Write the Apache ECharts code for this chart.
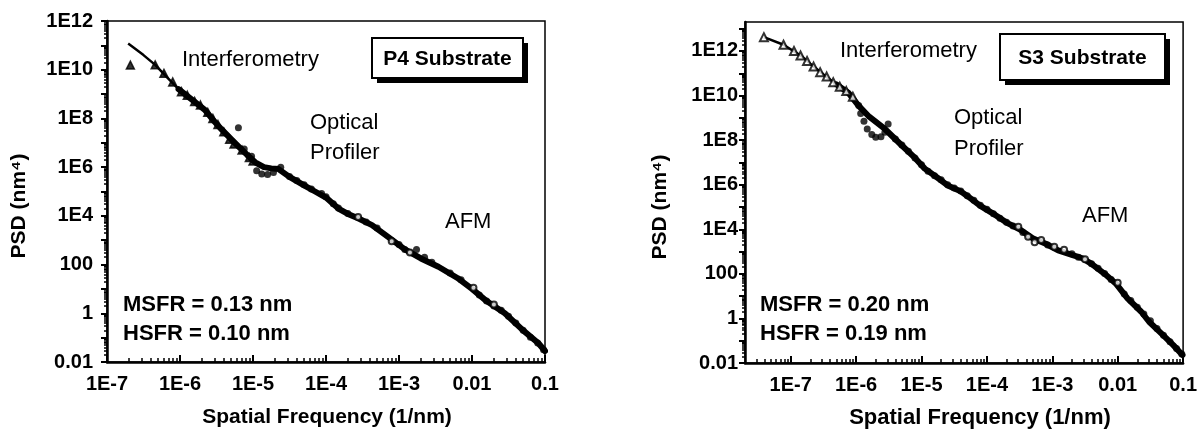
<!DOCTYPE html>
<html><head><meta charset="utf-8">
<script src="https://cdn.jsdelivr.net/npm/echarts@6/dist/echarts.min.js"></script>
<style>html,body{margin:0;padding:0;background:#fff}#c{width:1200px;height:430px}</style>
</head><body><div id="c"></div>
<script>
// All values are log10 exponents.
const xTickExp = [-7, -6, -5, -4, -3, -2, -1];
const xTickLabels = ['1E-7', '1E-6', '1E-5', '1E-4', '1E-3', '0.01', '0.1'];
const yTickExp = [-2, 0, 2, 4, 6, 8, 10, 12];
const yTickLabels = ['0.01', '1', '100', '1E4', '1E6', '1E8', '1E10', '1E12'];

// P4 substrate (left panel)
const p4Fit = [[-6.71,11.08],[-6.5,10.6],[-6.34,10.2],[-6.18,9.7],[-6.02,9.2],[-5.85,8.8]];
const p4Trace = [[-6.02,9.2],[-5.85,8.8],[-5.66,8.35],[-5.55,7.95],[-5.43,7.55],[-5.3,7.15],[-5.2,6.85],[-5.08,6.5],[-4.97,6.2],[-4.85,6.0],[-4.75,5.95],[-4.65,5.92],[-4.5,5.6],[-4.3,5.25],[-4.15,5.0],[-4.0,4.75],[-3.83,4.3],[-3.7,4.08],[-3.56,3.9],[-3.37,3.62],[-3.15,3.14],[-2.92,2.62],[-2.7,2.25],[-2.46,1.91],[-2.2,1.45],[-2.0,1.0],[-1.8,0.5],[-1.55,0.0],[-1.3,-0.7],[-1.09,-1.23],[-1.0,-1.55]];
const p4Interf = [[-6.68,10.19],[-6.34,10.2],[-6.22,9.85],[-6.1,9.5],[-5.98,9.1],[-5.9,8.95],[-5.8,8.7],[-5.72,8.55],[-5.62,8.25],[-5.55,8.0],[-5.48,7.75],[-5.4,7.45],[-5.32,7.15],[-5.26,6.95],[-5.15,6.7],[-5.05,6.4],[-5.0,6.25]];
const p4Optical = [[-5.2,7.62],[-5.12,6.75],[-5.02,6.45],[-4.95,5.85],[-4.88,5.72],[-4.8,5.7],[-4.72,5.78],[-4.62,6.0],[-4.5,5.62],[-4.4,5.45],[-4.3,5.28],[-4.2,5.1],[-4.06,4.92],[-4.0,4.78],[-3.9,4.5],[-3.83,4.32],[-2.76,2.62]];
const p4AfmFilled = [[-3.7,4.1],[-3.45,3.75],[-3.3,3.5],[-3.0,2.82],[-2.92,2.62],[-2.65,2.3],[-2.55,2.1],[-2.3,1.65],[-2.15,1.38],[-1.9,0.75],[-1.8,0.5],[-1.7,0.3],[-1.6,0.12],[-1.5,-0.12],[-1.4,-0.4],[-1.3,-0.7],[-1.2,-0.98],[-1.1,-1.22],[-1.02,-1.5]];
const p4AfmOpen = [[-3.56,3.95],[-3.1,2.96],[-2.85,2.5],[-1.98,1.05],[-1.7,0.36]];

// S3 substrate (right panel)
const s3Fit = [[-7.41,12.62],[-7.11,12.28],[-6.83,11.76],[-6.65,11.3],[-6.47,10.88],[-6.3,10.5],[-6.12,10.13]];
const s3Trace = [[-6.3,10.5],[-6.12,10.13],[-5.96,9.54],[-5.8,9.05],[-5.56,8.5],[-5.3,7.76],[-5.1,7.2],[-4.95,6.72],[-4.75,6.3],[-4.59,5.95],[-4.4,5.7],[-4.28,5.45],[-4.1,5.05],[-3.93,4.75],[-3.7,4.3],[-3.5,4.0],[-3.3,3.6],[-3.1,3.35],[-2.91,3.05],[-2.7,2.85],[-2.54,2.7],[-2.4,2.45],[-2.2,2.0],[-2.03,1.57],[-1.85,0.9],[-1.64,0.3],[-1.52,-0.15],[-1.33,-0.68],[-1.15,-1.2],[-1.01,-1.64]];
const s3Interf = [[-7.41,12.62],[-7.11,12.28],[-6.95,12.0],[-6.85,11.8],[-6.75,11.55],[-6.65,11.3],[-6.55,11.05],[-6.45,10.85],[-6.35,10.6],[-6.25,10.4],[-6.15,10.2],[-6.05,9.95]];
const s3Optical = [[-5.96,9.55],[-5.93,9.2],[-5.88,8.85],[-5.83,8.5],[-5.76,8.25],[-5.7,8.13],[-5.62,8.15],[-5.56,8.35],[-5.51,8.72],[-5.4,8.05],[-5.3,7.78],[-5.2,7.5],[-5.1,7.2],[-5.0,6.9],[-4.9,6.6],[-4.8,6.4],[-4.7,6.22],[-4.6,6.0],[-4.5,5.85],[-4.4,5.72],[-4.3,5.5],[-4.2,5.3],[-4.1,5.08],[-4.0,4.9]];
const s3AfmFilled = [[-3.9,4.7],[-3.8,4.5],[-3.7,4.32],[-3.6,4.15],[-3.45,3.85],[-3.07,3.3],[-2.7,2.9],[-2.6,2.75],[-2.4,2.45],[-2.3,2.25],[-2.2,2.02],[-2.1,1.75],[-1.9,1.1],[-1.8,0.8],[-1.7,0.5],[-1.6,0.2],[-1.5,-0.1],[-1.4,-0.45],[-1.3,-0.75],[-1.2,-1.05],[-1.1,-1.35],[-1.02,-1.6]];
const s3AfmOpen = [[-3.52,4.11],[-3.37,3.66],[-3.27,3.42],[-3.17,3.52],[-2.97,3.22],[-2.82,3.08],[-2.5,2.66],[-2.0,1.6]];

const FONT = '"Liberation Sans", Arial, Helvetica, sans-serif';

function decadeTicks(min, max) {
  const out = [];
  for (let n = Math.ceil(min); n <= Math.floor(max); n++) out.push(n);
  return out;
}
function minorTicks(min, max) {
  const out = [];
  for (let n = Math.floor(min); n <= Math.ceil(max); n++) {
    for (let k = 2; k <= 9; k++) {
      const v = n + Math.log10(k);
      if (v > min && v < max) out.push(v);
    }
  }
  return out;
}
function labelFor(exps, labels) {
  return function (v) {
    const i = exps.indexOf(Math.round(v));
    return i >= 0 ? labels[i] : '';
  };
}

const panels = [
  { grid: { left: 107, top: 21, width: 438, height: 341 }, xMin: -7, xMax: -1, yMin: -2, yMax: 12, yLabelMargin: 14,
    fit: p4Fit, trace: p4Trace, interf: p4Interf, optical: p4Optical, afmF: p4AfmFilled, afmO: p4AfmOpen },
  { grid: { left: 745, top: 22, width: 439, height: 341 }, xMin: Math.log10(2e-8), xMax: -1, yMin: -2, yMax: 13.3, yLabelMargin: 7,
    fit: s3Fit, trace: s3Trace, interf: s3Interf, optical: s3Optical, afmF: s3AfmFilled, afmO: s3AfmOpen }
];

const grid = [], xAxis = [], yAxis = [], series = [];
panels.forEach((p, g) => {
  grid.push(Object.assign({ show: true, borderColor: '#000', borderWidth: 1.5, backgroundColor: 'transparent' }, p.grid));
  const xi = xAxis.length, yi = yAxis.length;
  xAxis.push({
    type: 'value', gridIndex: g, min: p.xMin, max: p.xMax, position: 'bottom',
    axisLine: { show: true, onZero: false, lineStyle: { color: '#000', width: 2.5 } },
    axisTick: { show: true, inside: true, length: 7, customValues: decadeTicks(p.xMin, p.xMax), lineStyle: { color: '#000', width: 2 } },
    axisLabel: { show: true, interval: 0, customValues: xTickExp.filter(v => v >= p.xMin - 1e-9), formatter: labelFor(xTickExp, xTickLabels),
      color: '#000', fontSize: 20, fontWeight: 'bold', fontFamily: FONT, margin: 12 },
    splitLine: { show: false }
  });
  xAxis.push({
    type: 'value', gridIndex: g, min: p.xMin, max: p.xMax, position: 'bottom',
    axisLine: { show: false, onZero: false },
    axisTick: { show: true, inside: true, length: 4, customValues: minorTicks(p.xMin, p.xMax), lineStyle: { color: '#000', width: 1.5 } },
    axisLabel: { show: false }, splitLine: { show: false }
  });
  yAxis.push({
    type: 'value', gridIndex: g, min: p.yMin, max: p.yMax, position: 'left',
    axisLine: { show: true, onZero: false, lineStyle: { color: '#000', width: 2.5 } },
    axisTick: { show: true, inside: false, length: 6, customValues: decadeTicks(p.yMin, p.yMax), lineStyle: { color: '#000', width: 2 } },
    axisLabel: { show: true, interval: 0, customValues: yTickExp, formatter: labelFor(yTickExp, yTickLabels),
      color: '#000', fontSize: 20, fontWeight: 'bold', fontFamily: FONT, margin: p.yLabelMargin },
    splitLine: { show: false }
  });
  yAxis.push({
    type: 'value', gridIndex: g, min: p.yMin, max: p.yMax, position: 'left',
    axisLine: { show: false, onZero: false },
    axisTick: { show: true, inside: false, length: 3, customValues: minorTicks(p.yMin, p.yMax), lineStyle: { color: '#000', width: 1.5 } },
    axisLabel: { show: false }, splitLine: { show: false }
  });
  series.push({ type: 'line', xAxisIndex: xi, yAxisIndex: yi, data: p.fit, showSymbol: false, symbol: 'none',
    lineStyle: { color: '#000', width: 2.5 }, z: 2, silent: true, animation: false });
  series.push({ type: 'line', xAxisIndex: xi, yAxisIndex: yi, data: p.trace, showSymbol: false, symbol: 'none',
    lineStyle: { color: '#000', width: 6, cap: 'round', join: 'round' }, z: 2, silent: true, animation: false });
  series.push({ type: 'scatter', xAxisIndex: xi, yAxisIndex: yi, data: p.interf, symbol: g === 0 ? 'triangle' : 'emptyTriangle',
    symbolSize: 8, itemStyle: { color: '#000', borderColor: '#000', borderWidth: 1.5 }, z: 3, animation: false });
  series.push({ type: 'scatter', xAxisIndex: xi, yAxisIndex: yi, data: p.optical, symbol: 'circle',
    symbolSize: 7, itemStyle: { color: '#000' }, z: 3, animation: false });
  series.push({ type: 'scatter', xAxisIndex: xi, yAxisIndex: yi, data: p.afmF, symbol: 'circle',
    symbolSize: 7, itemStyle: { color: '#000' }, z: 3, animation: false });
  series.push({ type: 'scatter', xAxisIndex: xi, yAxisIndex: yi, data: p.afmO, symbol: 'emptyCircle',
    symbolSize: 6, itemStyle: { color: '#000', borderColor: '#000', borderWidth: 1.5 }, z: 4, animation: false });
});

function txt(x, y, text, size, weight, align, rot) {
  const el = { type: 'text', x: x, y: y, z: 50,
    style: { text: text, font: (weight || 'normal') + ' ' + size + 'px ' + FONT, fill: '#000',
      textAlign: align || 'left', textVerticalAlign: 'middle' } };
  if (rot) el.rotation = rot;
  return el;
}
function box(x, y, w, h, label) {
  return [
    { type: 'rect', z: 40, shape: { x: x + 5, y: y + 5, width: w, height: h }, style: { fill: '#000' } },
    { type: 'rect', z: 41, shape: { x: x, y: y, width: w, height: h }, style: { fill: '#fff', stroke: '#000', lineWidth: 2 } },
    txt(x + w / 2, y + h / 2 + 1, label, 21, 'bold', 'center')
  ];
}

const graphic = [].concat(
  [txt(182, 60, 'Interferometry', 22, 'normal'),
   txt(310, 123, 'Optical', 22, 'normal'),
   txt(310, 153, 'Profiler', 22, 'normal'),
   txt(445, 222, 'AFM', 22, 'normal'),
   txt(123, 305, 'MSFR = 0.13 nm', 22, 'bold'),
   txt(123, 334, 'HSFR = 0.10 nm', 22, 'bold'),
   txt(19, 206, 'PSD (nm\u2074)', 21, 'bold', 'center', Math.PI / 2),
   txt(327, 417, 'Spatial Frequency (1/nm)', 21, 'bold', 'center')],
  box(372, 38, 151, 40, 'P4 Substrate'),
  [txt(840, 51, 'Interferometry', 22, 'normal'),
   txt(954, 118, 'Optical', 22, 'normal'),
   txt(954, 149, 'Profiler', 22, 'normal'),
   txt(1082, 216, 'AFM', 22, 'normal'),
   txt(760, 305, 'MSFR = 0.20 nm', 22, 'bold'),
   txt(760, 334, 'HSFR = 0.19 nm', 22, 'bold'),
   txt(660, 207, 'PSD (nm\u2074)', 21, 'bold', 'center', Math.PI / 2),
   txt(980, 418, 'Spatial Frequency (1/nm)', 22, 'bold', 'center')],
  box(1000, 34, 165, 46, 'S3 Substrate')
);

const chart = echarts.init(document.getElementById('c'), null, { renderer: 'canvas' });
chart.setOption({ animation: false, backgroundColor: '#fff', grid, xAxis, yAxis, series, graphic });
</script></body></html>
